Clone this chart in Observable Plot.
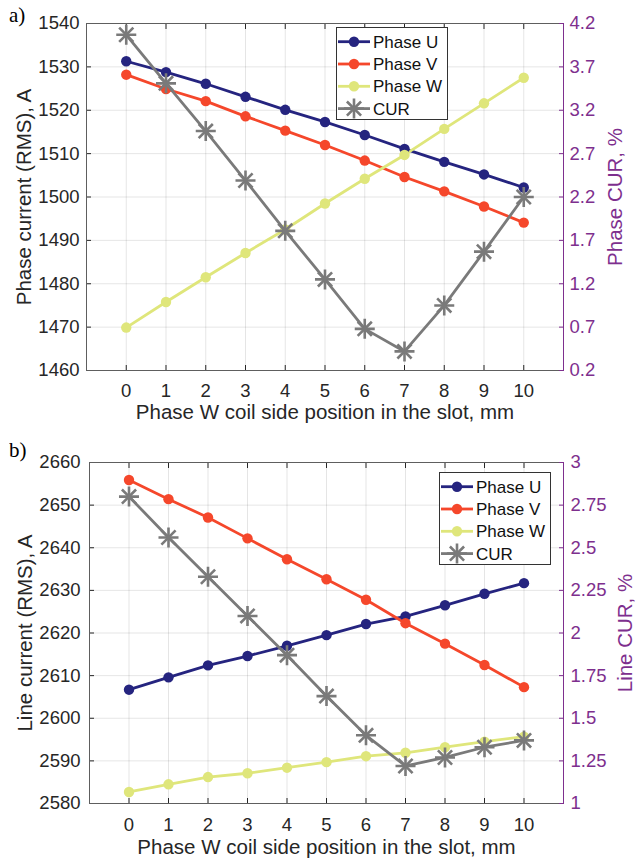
<!DOCTYPE html>
<html><head><meta charset="utf-8">
<script src="https://cdn.jsdelivr.net/npm/d3@7"></script>
<script src="https://cdn.jsdelivr.net/npm/@observablehq/plot@0.6"></script>
<style>
body{margin:0;background:#fff;}
#wrap{position:relative;width:635px;height:862px;overflow:hidden;background:#fff;}
#wrap > svg{position:absolute;}
</style></head><body><div id="wrap"></div>
<script>
// ---------- data ----------
const positions = [0, 1, 2, 3, 4, 5, 6, 7, 8, 9, 10];
const xDomain = [-1, 11];
const seriesNames = ["Phase U", "Phase V", "Phase W", "CUR"];
const seriesColors = ["#25247f", "#f5472b", "#dfe67b", "#7a7a7a"];
const purple = "#7e2f8e";
const xTitle = "Phase W coil side position in the slot, mm";

// panel a
const phaseUa = [1531.3, 1528.8, 1526.1, 1523.1, 1520.1, 1517.3, 1514.3, 1511.1, 1508.1, 1505.2, 1502.2];
const phaseVa = [1528.2, 1524.9, 1522.1, 1518.6, 1515.3, 1512.0, 1508.4, 1504.6, 1501.3, 1497.8, 1494.1];
const phaseWa = [1469.9, 1475.8, 1481.5, 1487.1, 1492.5, 1498.5, 1504.2, 1509.7, 1515.7, 1521.6, 1527.5];
const curA = [4.07, 3.51, 2.96, 2.39, 1.81, 1.25, 0.68, 0.42, 0.95, 1.57, 2.20];
const yTicksA = [1460, 1470, 1480, 1490, 1500, 1510, 1520, 1530, 1540];
const curTicksA = [0.2, 0.7, 1.2, 1.7, 2.2, 2.7, 3.2, 3.7, 4.2];

// panel b
const phaseUb = [2606.7, 2609.6, 2612.4, 2614.6, 2617.0, 2619.5, 2622.1, 2623.9, 2626.5, 2629.2, 2631.7];
const phaseVb = [2655.9, 2651.4, 2647.1, 2642.2, 2637.3, 2632.6, 2627.8, 2622.3, 2617.5, 2612.5, 2607.3];
const phaseWb = [2582.7, 2584.5, 2586.2, 2587.1, 2588.4, 2589.7, 2591.1, 2591.9, 2593.2, 2594.5, 2595.7];
const curB = [2.80, 2.56, 2.33, 2.10, 1.87, 1.63, 1.40, 1.22, 1.27, 1.33, 1.37];
const yTicksB = [2580, 2590, 2600, 2610, 2620, 2630, 2640, 2650, 2660];
const curTicksB = [1, 1.25, 1.5, 1.75, 2, 2.25, 2.5, 2.75, 3];

// ---------- drawing ----------
const wrap = document.getElementById("wrap");
const font = "'Liberation Sans', Arial, sans-serif";

function place(el, top, left = 0) {
  el.style.position = "absolute";
  el.style.top = top + "px";
  el.style.left = left + "px";
  wrap.appendChild(el);
}

function makePanel(cfg) {
  const rows = [];
  [cfg.u, cfg.v, cfg.w].forEach((arr, k) =>
    arr.forEach((val, i) => rows.push({x: positions[i], v: val, s: seriesNames[k]})));
  const curRows = cfg.cur.map((val, i) => ({x: positions[i], v: val, s: "CUR"}));

  const common = {
    width: 635, height: cfg.height,
    marginTop: cfg.mt, marginBottom: cfg.mb, marginLeft: cfg.ml, marginRight: cfg.mr,
    style: {background: "transparent", fontFamily: font, fontSize: "18.5px", color: "#262626", overflow: "visible"},
    color: {domain: seriesNames, range: seriesColors}
  };

  const primary = Plot.plot({
    ...common,
    x: {domain: xDomain},
    y: {domain: [cfg.yTicks[0], cfg.yTicks[cfg.yTicks.length - 1]]},
    marks: [
      Plot.gridX(positions, {stroke: "#000", strokeOpacity: 0.1}),
      Plot.gridY(cfg.yTicks, {stroke: "#000", strokeOpacity: 0.1}),
      Plot.axisX(positions, {anchor: "bottom", tickSize: -5, tickPadding: cfg.xtp, tickFormat: d => String(d), label: null}),
      Plot.axisX(positions, {anchor: "top", tickSize: -5, tickFormat: () => "", label: null}),
      Plot.axisY(cfg.yTicks, {anchor: "left", tickSize: -5, tickPadding: cfg.ytp, tickFormat: d => String(d), label: null}),
      Plot.frame({stroke: "#5e5e5e"}),
      Plot.line(rows, {x: "x", y: "v", z: "s", stroke: "s", strokeWidth: 2.8}),
      Plot.dot(rows, {x: "x", y: "v", fill: "s", r: 5.2}),
      Plot.text([cfg.yLabel], {frameAnchor: "left", text: d => d, rotate: -90, dx: cfg.yLabelDx, textAnchor: "middle", lineAnchor: "middle", fontSize: 20.5, fill: "#262626"}),
      Plot.text([xTitle], {frameAnchor: "bottom", text: d => d, dy: cfg.xLabelDy, textAnchor: "middle", lineAnchor: "middle", fontSize: 20.5, fill: "#262626"})
    ]
  });
  place(primary, cfg.top);

  const secondary = Plot.plot({
    ...common,
    x: {domain: xDomain, axis: null},
    y: {domain: [cfg.curTicks[0], cfg.curTicks[cfg.curTicks.length - 1]]},
    marks: [
      Plot.axisY(cfg.curTicks, {anchor: "right", tickSize: -5, tickPadding: cfg.rtp, tickFormat: d => String(d), color: purple, label: null}),
      Plot.frame({anchor: "right", stroke: purple}),
      Plot.line(curRows, {x: "x", y: "v", stroke: "s", strokeWidth: 2.8}),
      Plot.dot(curRows, {x: "x", y: "v", stroke: "s", symbol: "plus", r: 6.5, strokeWidth: 2.6}),
      Plot.dot(curRows, {x: "x", y: "v", stroke: "s", symbol: "times", r: 6.5, strokeWidth: 2.6}),
      Plot.text([cfg.curLabel], {frameAnchor: "right", text: d => d, rotate: -90, dx: cfg.curLabelDx, textAnchor: "middle", lineAnchor: "middle", fontSize: 20.5, fill: purple})
    ]
  });
  place(secondary, cfg.top);

  // legend
  const lw = 112, lh = 93, step = 22.3;
  const lg = d3.create("svg").attr("width", lw).attr("height", lh);
  lg.append("rect").attr("x", 0.5).attr("y", 0.5).attr("width", lw - 1).attr("height", lh - 1)
    .attr("fill", "#fff").attr("stroke", "#333").attr("stroke-width", 1);
  seriesNames.forEach((name, i) => {
    const g = lg.append("g").attr("transform", `translate(0,${14.7 + i * step})`);
    g.append("line").attr("x1", 2).attr("x2", 34).attr("y1", 0).attr("y2", 0)
      .attr("stroke", seriesColors[i]).attr("stroke-width", 2.8);
    if (name === "CUR") {
      [d3.symbolPlus, d3.symbolTimes].forEach(sym =>
        g.append("path").attr("transform", "translate(18,0)")
          .attr("d", d3.symbol(sym, Math.PI * 6.5 * 6.5)())
          .attr("fill", "none").attr("stroke", seriesColors[i]).attr("stroke-width", 2.6));
    } else {
      g.append("circle").attr("cx", 18).attr("cy", 0).attr("r", 5.2).attr("fill", seriesColors[i]);
    }
    g.append("text").attr("x", 37).attr("y", 0).attr("dy", "0.36em")
      .attr("font-family", font).attr("font-size", 17).attr("fill", "#111").text(name);
  });
  place(lg.node(), cfg.legendTop, cfg.legendLeft);

  // panel letter
  const pl = d3.create("svg").attr("width", 40).attr("height", 30);
  pl.append("text").attr("x", 0).attr("y", 22).attr("font-family", "'Liberation Serif', 'Times New Roman', serif")
    .attr("font-size", 21).attr("fill", "#000").text(cfg.letter);
  place(pl.node(), cfg.letterTop, 9);
}

makePanel({
  top: 0, height: 420, mt: 23, mb: 50, ml: 86, mr: 72,
  u: phaseUa, v: phaseVa, w: phaseWa, cur: curA,
  yTicks: yTicksA, curTicks: curTicksA,
  yLabel: "Phase current (RMS), A", curLabel: "Phase CUR, %",
  yLabelDx: -62, curLabelDx: 52, xLabelDy: 41.5,
  xtp: 18.5, ytp: 12, rtp: 11,
  legendLeft: 336, legendTop: 27, letter: "a)", letterTop: 0
});

makePanel({
  top: 430, height: 432, mt: 32, mb: 59, ml: 89, mr: 72,
  u: phaseUb, v: phaseVb, w: phaseWb, cur: curB,
  yTicks: yTicksB, curTicks: curTicksB,
  yLabel: "Line current (RMS), A", curLabel: "Line CUR, %",
  yLabelDx: -64, curLabelDx: 62, xLabelDy: 44,
  xtp: 19.5, ytp: 14, rtp: 12,
  legendLeft: 439, legendTop: 472, letter: "b)", letterTop: 435
});
</script></body></html>
